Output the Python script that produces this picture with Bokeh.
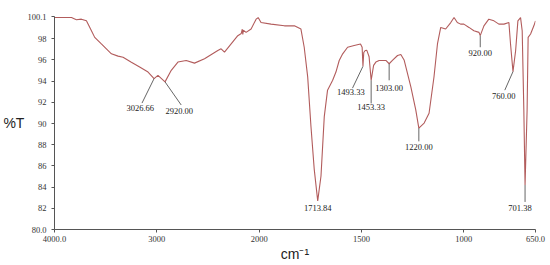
from bokeh.plotting import figure
from bokeh.models import Range1d, FixedTicker, ColumnDataSource
from bokeh.embed import file_html
from bokeh.resources import INLINE
from bokeh.core.properties import value

# ---- data: IR spectrum (wavenumber cm-1, %T) ----
wavenumber = [4000, 3834, 3786, 3737, 3688, 3639, 3607, 3542, 3444, 3379, 3330, 3249,
              3168, 3086, 3027, 2989, 2920, 2859, 2794, 2713, 2632, 2534, 2404, 2372,
              2339, 2274, 2209, 2175, 2165, 2160, 2155, 2128, 2079, 2030, 2010, 1991,
              1942, 1877, 1828, 1796, 1780, 1763, 1747, 1731, 1714, 1698, 1682, 1666,
              1641, 1625, 1609, 1592, 1568, 1536, 1505, 1497, 1493, 1489, 1482, 1474,
              1463, 1453, 1441, 1430, 1414, 1397, 1381, 1365, 1349, 1324, 1308, 1292,
              1259, 1235, 1220, 1194, 1170, 1146, 1129, 1113, 1089, 1064, 1048, 1032,
              1016, 1000, 975, 951, 926, 920, 902, 878, 853, 829, 804, 780, 772, 760,
              747, 736, 723, 715, 707, 701, 691, 686, 674, 658, 650]
transmittance = [100.0, 100.0, 99.79, 99.85, 99.69, 98.76, 98.13, 97.51, 96.58, 96.36, 96.26, 95.79,
                 95.33, 94.86, 94.24, 94.55, 93.93, 95.02, 95.8, 95.95, 95.7, 96.11, 96.89, 97.05,
                 96.73, 97.51, 98.29, 98.5, 98.9, 98.4, 98.8, 98.6, 98.92, 99.85, 100.0, 99.53,
                 99.38, 99.22, 99.22, 98.91, 97.2, 94.4, 89.72, 85.67, 82.7, 85.05, 90.65, 93.15,
                 94.08, 94.86, 95.95, 96.58, 97.2, 97.36, 97.51, 97.2, 95.4, 96.7, 96.89, 96.9,
                 96.3, 94.08, 95.49, 95.8, 95.95, 95.95, 95.95, 95.64, 95.95, 96.42, 96.52, 96.0,
                 93.46, 91.28, 89.57, 90.04, 90.97, 94.39, 97.51, 99.07, 98.92, 99.53, 100.0, 99.53,
                 99.38, 99.38, 99.07, 98.76, 98.6, 98.29, 99.22, 99.85, 99.69, 99.38, 99.38, 99.53, 97.51, 94.9,
                 96.89, 99.69, 100.0, 98.76, 91.28, 84.2, 91.28, 98.13, 98.45, 99.22, 99.69]

# peak annotations
peak_wn = [3027, 2920, 1714, 1493, 1453, 1365, 1220, 920, 760, 701]
peak_t = [94.24, 93.93, 82.7, 95.4, 94.08, 95.64, 89.57, 98.29, 94.9, 84.2]
peak_text = ["3026.66", "2920.00", "1713.84", "1493.33", "1453.33", "1303.00",
             "1220.00", "920.00", "760.00", "701.38"]

# axis ticks
x_ticks = [4000, 3000, 2000, 1500, 1000, 650]
x_tick_labels = ["4000.0", "3000", "2000", "1500", "1000", "650.0"]
y_ticks = [80, 82, 84, 86, 88, 90, 92, 94, 96, 98, 100.1]
y_tick_labels = ["80.0", "82", "84", "86", "88", "90", "92", "94", "96", "98", "100.1"]

# ---- layout (label placement, not data) ----
lead_wn = [3145, 2762, 1714, 1544, 1453, 1365, 1220, 920, 800, 701]
lead_t = [91.93, 91.75, 82.7, 93.34, 91.9, 94.08, 88.32, 97.2, 93.15, 82.6]
text_wn = [3162, 2781, 1714, 1552, 1453, 1365, 1220, 920, 805, 726]
text_t = [91.75, 91.42, 82.31, 93.29, 91.84, 93.62, 88.06, 96.92, 92.92, 82.34]


def to_u(w):
    # spectrometer axis: 4000-2000 compressed, 2000-650 expanded 2x
    return (4000 - w) / 2 if w >= 2000 else 1000 + (2000 - w)


p = figure(width=548, height=264, output_backend="svg", toolbar_location=None,
           x_range=Range1d(to_u(4000), to_u(650)), y_range=Range1d(80, 100.1),
           min_border_left=53, min_border_right=13, min_border_top=16, min_border_bottom=33)
p.outline_line_color = None
p.grid.visible = False
p.background_fill_color = "white"
p.border_fill_color = "white"

p.line([to_u(w) for w in wavenumber], transmittance, line_color="#b25c5c", line_width=1.1)

lead_src = ColumnDataSource(dict(x0=[to_u(w) for w in peak_wn], y0=peak_t,
                                 x1=[to_u(w) for w in lead_wn], y1=lead_t))
p.segment(x0="x0", y0="y0", x1="x1", y1="y1", source=lead_src, line_color="#555555", line_width=0.9)

txt_src = ColumnDataSource(dict(x=[to_u(w) for w in text_wn], y=text_t, text=peak_text))
p.text(x="x", y="y", text="text", source=txt_src, text_font=value("Liberation Serif"),
       text_font_size=value("8.5px"), text_align="center", text_baseline="top", text_color="#222222")

# axes
xu = [to_u(w) for w in x_ticks]
p.xaxis.ticker = FixedTicker(ticks=xu)
p.xaxis.major_label_overrides = {u: l for u, l in zip(xu, x_tick_labels)}
p.yaxis.ticker = FixedTicker(ticks=y_ticks)
p.yaxis.major_label_overrides = {t: l for t, l in zip(y_ticks, y_tick_labels)}
for ax in (p.xaxis[0], p.yaxis[0]):
    ax.axis_line_color = "#555555"
    ax.major_tick_line_color = "#555555"
    ax.minor_tick_line_color = None
    ax.major_tick_in = 0
    ax.major_tick_out = 3
    ax.major_label_text_font = "Liberation Serif"
    ax.major_label_text_font_size = "8.5px"
    ax.major_label_text_color = "#333333"
    ax.axis_label_text_font = "Liberation Sans"
    ax.axis_label_text_font_style = "normal"
    ax.axis_label_text_color = "#222222"
p.xaxis.major_label_standoff = 3
p.yaxis.major_label_standoff = 5

p.xaxis.axis_label = "cm⁻¹"
p.xaxis.axis_label_text_font_size = "14px"
p.xaxis.axis_label_standoff = 1

p.yaxis.axis_label = "%T"
p.yaxis.axis_label_text_font_size = "14px"
p.yaxis.axis_label_standoff = 0
try:
    p.yaxis.axis_label_orientation = "horizontal"
except Exception:
    pass

open("out.html", "w").write(file_html(p, INLINE))
